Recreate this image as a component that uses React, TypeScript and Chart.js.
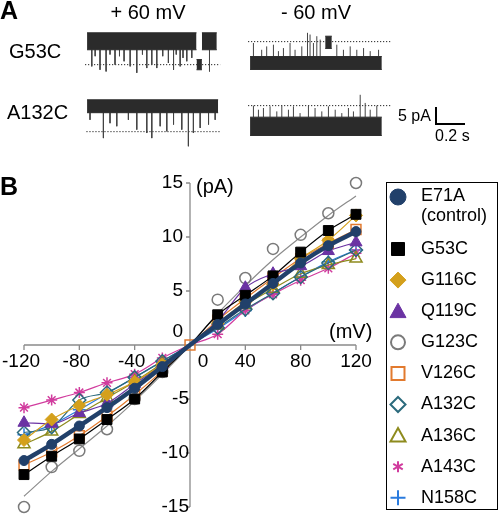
import React, { useEffect, useRef } from "react";
import { Chart, registerables } from "chart.js";

Chart.register(...registerables);

// ---------- Panel B data (IV relationship) ----------
const VOLTAGES = [-120, -100, -80, -60, -40, -20, 0, 20, 40, 60, 80, 100, 120];
const E71A = [-10.7, -9.2, -7.5, -5.8, -4.0, -2.0, 0, 1.9, 3.8, 5.7, 7.6, 9.2, 10.5];
const G53C = [-12.0, -10.3, -8.7, -6.9, -5.0, -2.5, 0, 2.8, 4.6, 6.4, 8.6, 10.6, 12.1];
const G116C = [-8.8, -6.9, -5.6, -4.6, -3.4, -1.8, 0, 2.0, 4.0, 5.6, 8.0, 9.7, 12.0];
const Q119C = [-7.2, -7.3, -6.3, -5.4, -3.6, -1.8, 0, 2.2, 5.3, 6.6, 7.3, 8.7, 9.5];
const G123C = [-15.0, -11.3, -9.8, -7.8, -5.0, -2.5, 0, 4.2, 6.2, 8.9, 10.2, 12.2, 15.0];
const G123C_FIT = [-14.0, -11.7, -9.6, -7.5, -5.2, -2.7, 0, 2.9, 5.5, 7.9, 10.0, 12.0, 13.8];
const V126C = [-11.1, -9.9, -8.4, -6.6, -4.6, -2.4, 0, 2.3, 4.3, 6.2, 8.0, 9.4, 10.7];
const A132C = [-8.1, -7.6, -5.1, -4.4, -3.0, -1.5, 0, 1.6, 3.3, 4.8, 6.3, 7.6, 8.8];
const A136C = [-9.2, -8.0, -6.4, -4.9, -3.4, -1.7, 0, 1.8, 3.7, 5.2, 6.6, 7.4, 8.0];
const A143C = [-5.8, -5.1, -4.4, -3.5, -2.7, -1.2, 0, 1.0, 3.2, 4.7, 6.0, 7.1, 8.5];
const N158C = [-8.3, -7.4, -6.0, -4.5, -3.0, -1.5, 0, 1.5, 3.2, 4.8, 6.3, 7.7, 8.8];

const X_TICKS = [-120, -80, -40, 0, 40, 80, 120];
const Y_TICKS = [-15, -10, -5, 0, 5, 10, 15];

type Series = {
  label: string;
  sub?: string;
  data: number[];
  color: string;
  style: string;
  filled: boolean;
  line: number;
  r: number;
  showLine?: boolean;
  originMarker?: boolean;
};

const SERIES: Series[] = [
  { label: "E71A", sub: "(control)", data: E71A, color: "#21406a", style: "circle", filled: true, line: 4.5, r: 5 },
  { label: "G53C", data: G53C, color: "#000000", style: "rect", filled: true, line: 1.2, r: 7 },
  { label: "G116C", data: G116C, color: "#d4a01c", style: "rectRot", filled: true, line: 1.2, r: 6.5 },
  { label: "Q119C", data: Q119C, color: "#6b33a3", style: "triangle", filled: true, line: 1.2, r: 7 },
  { label: "G123C", data: G123C, color: "#7a7a7a", style: "circle", filled: false, line: 1, r: 5.5, showLine: false },
  { label: "V126C", data: V126C, color: "#e27a2e", style: "rect", filled: false, line: 1.2, r: 7, originMarker: true },
  { label: "A132C", data: A132C, color: "#2b6a7c", style: "rectRot", filled: false, line: 1.2, r: 6.5 },
  { label: "A136C", data: A136C, color: "#8e8b1e", style: "triangle", filled: false, line: 1.2, r: 7 },
  { label: "A143C", data: A143C, color: "#d13c9e", style: "star", filled: false, line: 1.2, r: 5.5 },
  { label: "N158C", data: N158C, color: "#2a7bde", style: "cross", filled: false, line: 1.2, r: 6.5 },
];

// ---------- Panel A data (single-channel traces) ----------
// time in s, current in pA relative to the closed level
const PX_PER_S = 135;
const PX_PER_PA = 3.4;

type TraceSpec = {
  start: number;
  closedPx: number;
  yMin: number;
  yMax: number;
  dot: [number, number];
  edge: number;
  bands: [number, number, number, number][];
  spikes: [number, number][];
};

const T_G53C_POS: TraceSpec = {
  start: 87, closedPx: 65, yMin: -6, yMax: 12, dot: [-0.015, 0.985], edge: 4.4,
  bands: [[0, 0.81, 4.4, 9.4], [0.85, 0.96, 4.4, 9.4], [0.81, 0.85, -1.5, 1.5]],
  spikes: [
    [0.035, -0.5], [0.06, 2.5], [0.096, -1.5], [0.141, -2.0], [0.17, 3.0], [0.207, 0], [0.24, 2.5],
    [0.274, 1.0], [0.319, -0.5], [0.368, -2.4], [0.41, 3.0], [0.442, -1.0], [0.479, 0], [0.516, -1.0],
    [0.56, 2.5], [0.602, 0.5], [0.64, -1.5], [0.66, 3.0], [0.689, -0.5], [0.71, 2.0], [0.738, 1.0],
    [0.775, 2.0], [0.906, -2.0],
  ],
};
const T_G53C_NEG: TraceSpec = {
  start: 250, closedPx: 42, yMin: -12.5, yMax: 5.5, dot: [-0.015, 1.05], edge: -4.4,
  bands: [[0, 0.975, -8.2, -4.4], [0.556, 0.605, -2.0, 1.6]],
  spikes: [
    [0.025, -0.4], [0.086, -2.4], [0.123, -1.4], [0.173, -0.9], [0.21, -2.8], [0.247, -1.9],
    [0.296, -0.4], [0.333, -2.4], [0.383, -1.4], [0.425, 2.6], [0.444, 2.1], [0.469, -0.4],
    [0.494, 1.6], [0.519, 0.6], [0.642, -0.9], [0.691, -2.4], [0.741, -1.4], [0.79, -2.4],
    [0.84, -1.9], [0.889, -2.8], [0.951, -2.4],
  ],
};
const T_A132C_POS: TraceSpec = {
  start: 87, closedPx: 132, yMin: -6, yMax: 12, dot: [-0.005, 0.985], edge: 5.6,
  bands: [[0, 0.97, 5.6, 9.4]],
  spikes: [
    [0.022, 3.5], [0.121, -1.9], [0.17, 2.5], [0.22, 1.6], [0.306, 3.5], [0.368, 0.6], [0.442, -0.4],
    [0.479, -1.9], [0.541, 1.6], [0.59, 0.1], [0.64, 2.1], [0.701, 0.6], [0.75, -4.3], [0.787, -0.4],
    [0.837, 1.1], [0.899, 2.1], [0.948, 3.5],
  ],
};
const T_A132C_NEG: TraceSpec = {
  start: 250, closedPx: 106, yMin: -12.5, yMax: 5.5, dot: [-0.015, 1.05], edge: -3.4,
  bands: [[0, 0.975, -8.8, -3.4]],
  spikes: [
    [0.025, 0], [0.062, -1.2], [0.099, -0.7], [0.148, -0.2], [0.198, -1.7], [0.235, 0], [0.284, -1.2],
    [0.321, -0.2], [0.37, -2.2], [0.432, 0], [0.481, -0.7], [0.531, -1.7], [0.58, -0.2], [0.63, -1.2],
    [0.679, -2.2], [0.728, -0.7], [0.765, -1.7], [0.815, 3.2], [0.852, 0.8], [0.889, -1.2], [0.938, 0],
  ],
};
const TRACES = [T_G53C_POS, T_G53C_NEG, T_A132C_POS, T_A132C_NEG];
const X_MIN_T = -0.03;
const X_MAX_T = 1.08;

const FONT = "'Liberation Sans', Arial, sans-serif";

function drawMarker(
  ctx: CanvasRenderingContext2D,
  style: string,
  x: number,
  y: number,
  r: number,
  color: string,
  filled: boolean
) {
  ctx.save();
  ctx.beginPath();
  ctx.strokeStyle = color;
  ctx.fillStyle = color;
  ctx.lineWidth = filled ? 1 : 2;
  switch (style) {
    case "circle":
      ctx.arc(x, y, r, 0, Math.PI * 2);
      break;
    case "rect":
      ctx.rect(x - r, y - r, 2 * r, 2 * r);
      break;
    case "rectRot":
      ctx.moveTo(x, y - r);
      ctx.lineTo(x + r, y);
      ctx.lineTo(x, y + r);
      ctx.lineTo(x - r, y);
      ctx.closePath();
      break;
    case "triangle":
      ctx.moveTo(x, y - r);
      ctx.lineTo(x + r, y + r * 0.8);
      ctx.lineTo(x - r, y + r * 0.8);
      ctx.closePath();
      break;
    case "star":
      for (const a of [90, 30, 150]) {
        const rad = (a * Math.PI) / 180;
        ctx.moveTo(x - Math.cos(rad) * r, y - Math.sin(rad) * r);
        ctx.lineTo(x + Math.cos(rad) * r, y + Math.sin(rad) * r);
      }
      break;
    case "cross":
      ctx.moveTo(x - r, y);
      ctx.lineTo(x + r, y);
      ctx.moveTo(x, y - r);
      ctx.lineTo(x, y + r);
      break;
  }
  if (filled) ctx.fill();
  ctx.stroke();
  ctx.restore();
}

const LEGEND_SIZES: Record<string, number> = {
  E71A: 8, G53C: 6.5, G116C: 8, Q119C: 8, G123C: 7, V126C: 6.5, A132C: 7.5, A136C: 7.5, A143C: 5.5, N158C: 7.5,
};

const decorPlugin = {
  id: "decor",
  beforeDatasetsDraw(chart: any) {
    const ctx: CanvasRenderingContext2D = chart.ctx;
    const xs = chart.scales.x;
    const ys = chart.scales.y;
    const x0 = xs.getPixelForValue(0);
    const y0 = ys.getPixelForValue(0);
    ctx.save();
    ctx.strokeStyle = "#8a8a8a";
    ctx.lineWidth = 1.3;
    ctx.beginPath();
    ctx.moveTo(xs.getPixelForValue(X_TICKS[0]), y0);
    ctx.lineTo(xs.getPixelForValue(X_TICKS[X_TICKS.length - 1]), y0);
    ctx.moveTo(x0, ys.getPixelForValue(Y_TICKS[0]));
    ctx.lineTo(x0, ys.getPixelForValue(Y_TICKS[Y_TICKS.length - 1]));
    for (const v of X_TICKS) {
      const px = xs.getPixelForValue(v);
      ctx.moveTo(px, y0);
      ctx.lineTo(px, y0 + 5);
    }
    for (const v of Y_TICKS) {
      const py = ys.getPixelForValue(v);
      ctx.moveTo(x0 - 4, py);
      ctx.lineTo(x0, py);
    }
    ctx.stroke();
    ctx.restore();
  },
  afterDraw(chart: any) {
    const ctx: CanvasRenderingContext2D = chart.ctx;
    const xs = chart.scales.x;
    const ys = chart.scales.y;
    const x0 = xs.getPixelForValue(0);
    const y0 = ys.getPixelForValue(0);
    ctx.save();
    ctx.fillStyle = "#000";
    ctx.textBaseline = "middle";

    // tick labels
    ctx.font = `19px ${FONT}`;
    ctx.textAlign = "right";
    for (const v of Y_TICKS) {
      const py = v === 0 ? y0 - 13 : ys.getPixelForValue(v);
      ctx.fillText(String(v), x0 - (v >= 0 ? 7 : 1), py);
    }
    ctx.textAlign = "center";
    for (const v of X_TICKS) {
      let px = xs.getPixelForValue(v);
      if (v === 0) px += 13;
      if (v < 0) px -= 3;
      ctx.fillText(String(v), px, y0 + 17);
    }

    // axis units
    ctx.font = `20px ${FONT}`;
    ctx.textAlign = "left";
    ctx.fillText("(pA)", x0 + 6, ys.getPixelForValue(15) + 4);
    ctx.fillText("(mV)", 329, y0 - 13);

    // panel letters
    ctx.font = `bold 25px ${FONT}`;
    ctx.fillText("A", 0, 12);
    ctx.fillText("B", 0, 188);

    // panel A labels
    ctx.font = `20px ${FONT}`;
    ctx.textAlign = "center";
    ctx.fillText("+ 60 mV", 148, 13);
    ctx.fillText("- 60 mV", 316, 13);
    ctx.textAlign = "left";
    ctx.fillText("G53C", 9, 52);
    ctx.fillText("A132C", 7, 113);

    // scale bar
    ctx.font = `16px ${FONT}`;
    ctx.fillText("5 pA", 398, 117);
    ctx.fillText("0.2 s", 435, 137);
    ctx.strokeStyle = "#000";
    ctx.lineWidth = 2;
    ctx.beginPath();
    const barX = 436;
    const barY = 124;
    ctx.moveTo(barX, barY - 5 * PX_PER_PA);
    ctx.lineTo(barX, barY);
    ctx.lineTo(barX + 0.2 * PX_PER_S + 2, barY);
    ctx.stroke();

    // legend
    ctx.lineWidth = 1;
    ctx.strokeStyle = "#000";
    ctx.strokeRect(386.5, 182.5, 111, 327);
    ctx.font = `18px ${FONT}`;
    SERIES.forEach((s, i) => {
      const y = i === 0 ? 197 : 249 + 31.1 * (i - 1);
      drawMarker(ctx, s.style, 398, y, LEGEND_SIZES[s.label], s.color, s.filled);
      ctx.fillStyle = "#000";
      ctx.textAlign = "left";
      ctx.fillText(s.label, 421, i === 0 ? 196 : y);
      if (s.sub) ctx.fillText(s.sub, 421, 216);
    });
    ctx.restore();
  },
};

function IVChart() {
  const ref = useRef<HTMLCanvasElement | null>(null);
  useEffect(() => {
    if (!ref.current) return;
    const datasets: any[] = SERIES.map((s) => ({
      label: s.label,
      data: VOLTAGES.map((v, i) => ({ x: v, y: s.data[i] })),
      borderColor: s.color,
      borderWidth: s.line,
      showLine: s.showLine !== false,
      pointStyle: s.style,
      pointRadius: VOLTAGES.map((v) => (v === 0 && !s.originMarker ? 0 : s.r)),
      pointBackgroundColor: s.filled ? s.color : "rgba(255,255,255,0)",
      pointBorderColor: s.color,
      pointBorderWidth: s.filled ? 1 : 1.5,
      cubicInterpolationMode: "monotone",
      fill: false,
      clip: false,
    }));
    datasets.push({
      label: "G123C fit",
      data: VOLTAGES.map((v, i) => ({ x: v, y: G123C_FIT[i] })),
      borderColor: "#8c8c8c",
      borderWidth: 1.2,
      pointRadius: 0,
      cubicInterpolationMode: "monotone",
      fill: false,
      clip: false,
    });
    const chart = new Chart(ref.current, {
      type: "line",
      data: { datasets },
      options: {
        responsive: false,
        animation: false,
        events: [],
        layout: { padding: { left: 24, right: 144, top: 183, bottom: 11 } },
        scales: {
          x: { type: "linear", min: -120, max: 120, display: false },
          y: { type: "linear", min: -15, max: 15, display: false },
        },
        plugins: { legend: { display: false }, tooltip: { enabled: false } },
      },
      plugins: [decorPlugin],
    });
    return () => chart.destroy();
  }, []);
  return (
    <canvas
      ref={ref}
      width={500}
      height={518}
      style={{ position: "absolute", left: 0, top: 0, width: 500, height: 518 }}
    />
  );
}

function Trace({ spec }: { spec: TraceSpec }) {
  const ref = useRef<HTMLCanvasElement | null>(null);
  const width = Math.round((X_MAX_T - X_MIN_T) * PX_PER_S);
  const height = Math.round((spec.yMax - spec.yMin) * PX_PER_PA);
  const left = spec.start + X_MIN_T * PX_PER_S;
  const top = spec.closedPx - spec.yMax * PX_PER_PA;
  useEffect(() => {
    if (!ref.current) return;
    const dark = "#2b2b2b";
    const datasets: any[] = [];
    for (const [t0, t1, lo, hi] of spec.bands) {
      datasets.push({
        data: [{ x: t0, y: hi }, { x: t1, y: hi }],
        borderColor: dark,
        borderWidth: 1,
        backgroundColor: dark,
        fill: "+1",
        pointRadius: 0,
      });
      datasets.push({
        data: [{ x: t0, y: lo }, { x: t1, y: lo }],
        borderColor: dark,
        borderWidth: 1,
        fill: false,
        pointRadius: 0,
      });
    }
    const pts: any[] = [];
    for (const [t, tip] of spec.spikes) {
      pts.push({ x: t, y: spec.edge });
      pts.push({ x: t, y: tip });
      pts.push({ x: t, y: null });
    }
    datasets.push({
      data: pts,
      borderColor: "#444",
      borderWidth: 1,
      pointRadius: 0,
      spanGaps: false,
      fill: false,
    });
    datasets.push({
      data: [{ x: spec.dot[0], y: 0 }, { x: spec.dot[1], y: 0 }],
      borderColor: "#222",
      borderWidth: 1,
      borderDash: [1.2, 1.8],
      pointRadius: 0,
      fill: false,
    });
    const chart = new Chart(ref.current, {
      type: "line",
      data: { datasets },
      options: {
        responsive: false,
        animation: false,
        events: [],
        layout: { padding: 0 },
        scales: {
          x: { type: "linear", min: X_MIN_T, max: X_MAX_T, display: false },
          y: { type: "linear", min: spec.yMin, max: spec.yMax, display: false },
        },
        plugins: { legend: { display: false }, tooltip: { enabled: false } },
      },
    });
    return () => chart.destroy();
  }, [spec]);
  return (
    <canvas
      ref={ref}
      width={width}
      height={height}
      style={{ position: "absolute", left, top, width, height }}
    />
  );
}

export default function App() {
  return (
    <div
      style={{
        position: "fixed",
        left: 0,
        top: 0,
        width: 500,
        height: 518,
        background: "#fff",
        overflow: "hidden",
      }}
    >
      <IVChart />
      {TRACES.map((t, i) => (
        <Trace key={i} spec={t} />
      ))}
    </div>
  );
}
